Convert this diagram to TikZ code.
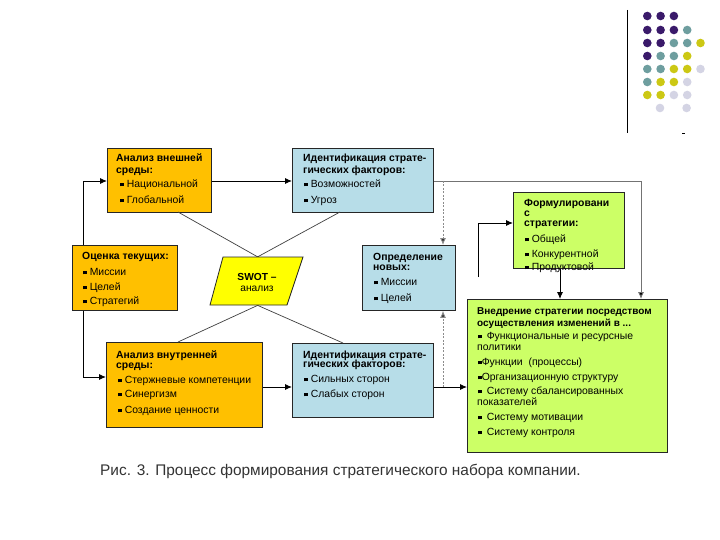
\documentclass[tikz,border=0pt]{standalone}
\usepackage{fontspec}
\setmainfont{Liberation Sans}
\usetikzlibrary{arrows.meta,calc}
\definecolor{orng}{HTML}{FFC000}
\definecolor{lblue}{HTML}{B7DDE8}
\definecolor{lgreen}{HTML}{CCFF66}
\definecolor{swoty}{HTML}{FFFF00}
\definecolor{dpurp}{HTML}{3A1A6A}
\definecolor{dteal}{HTML}{6E9E9F}
\definecolor{dyel}{HTML}{CCC814}
\definecolor{dlav}{HTML}{D4D4E4}
\newcommand\mybul{\rule[0.2ex]{3.6pt}{3.6pt}\hspace{3pt}}
\newcommand\mybulx{\rule[0.2ex]{3.6pt}{3.6pt}}
\begin{document}
\begin{tikzpicture}[x=1pt,y=-1pt,
  boxbase/.style={draw=black!85, line width=0.8pt, inner sep=0, anchor=north west},
  boxo/.style={boxbase, fill=orng},
  boxb/.style={boxbase, fill=lblue},
  boxg/.style={boxbase, fill=lgreen},
  txt/.style={anchor=base west, inner sep=0, font=\fontsize{10.4}{12}\selectfont},
  hd/.style={txt, font=\fontsize{10.4}{12}\selectfont\bfseries},
  arr/.style={line width=0.9pt, -{Latex[length=7pt,width=6pt]}},
  garr/.style={line width=0.9pt, draw=black!55, -{Latex[length=7pt,width=6pt,fill=black]}},
  darr/.style={line width=0.9pt, draw=black!45, dash pattern=on 2pt off 1.5pt, -{Latex[length=7pt,width=6pt,fill=black!80]}},
  xline/.style={line width=0.7pt, draw=black!75}
]
\useasboundingbox (0,0) rectangle (720,540);
\fill[white] (0,0) rectangle (720,540);

% decoration top right
\draw[line width=1pt] (627,10) -- (627,133);
\draw[line width=0.8pt] (682,133) -- (685,133);
\foreach \c [count=\i] in {dpurp,dpurp,dpurp}{\fill[\c] ({634+13.3*\i},16) circle (4.3);}
\foreach \c [count=\i] in {dpurp,dpurp,dpurp,dteal}{\fill[\c] ({634+13.3*\i},30) circle (4.3);}
\foreach \c [count=\i] in {dpurp,dpurp,dteal,dteal,dyel}{\fill[\c] ({634+13.3*\i},43) circle (4.3);}
\foreach \c [count=\i] in {dpurp,dteal,dteal,dyel}{\fill[\c] ({634+13.3*\i},56) circle (4.3);}
\foreach \c [count=\i] in {dteal,dteal,dyel,dyel,dlav}{\fill[\c] ({634+13.3*\i},69) circle (4.3);}
\foreach \c [count=\i] in {dteal,dyel,dyel,dlav}{\fill[\c] ({634+13.3*\i},82) circle (4.3);}
\foreach \c [count=\i] in {dyel,dyel,dlav,dlav}{\fill[\c] ({634+13.3*\i},95) circle (4.3);}
\fill[dlav] (660,108) circle (4.3);
\fill[dlav] (686.6,108) circle (4.3);

% helper coordinates
\coordinate (lx) at (83,0);
\coordinate (dx) at (443,0);
\coordinate (rx) at (641,0);
\coordinate (jt) at (0,181);
\coordinate (jb) at (0,387);
\coordinate (jl) at (0,377);
\coordinate (jf) at (0,223);
\coordinate (fs) at (478,277);
\coordinate (fx) at (560,0);

% boxes
\node[boxo, minimum width=104pt, minimum height=64pt] (tl) at (107,148) {};
\node[boxb, minimum width=141pt, minimum height=64pt] (tm) at (292,148) {};
\node[boxo, minimum width=105pt, minimum height=65pt] (lb) at (72,245) {};
\node[boxb, minimum width=93pt, minimum height=65pt] (rb) at (362,245) {};
\node[boxg, minimum width=111pt, minimum height=76pt] (fg) at (513,192) {};
\node[boxg, minimum width=200pt, minimum height=153pt] (bg) at (467,299) {};

% cross lines to SWOT
\coordinate (sx1) at (265,261);
\coordinate (sx2) at (250,261);
\coordinate (sx3) at (265,302);
\coordinate (sx4) at (250,302);
\node[boxo, minimum width=156pt, minimum height=85pt] (bl) at (106,342) {};
\node[boxb, minimum width=141pt, minimum height=74pt] (bm) at (292,343) {};
\draw[xline] (178,212) -- (sx1);
\draw[xline] (340,212) -- (sx2);
\draw[xline] (178,342) -- (sx3);
\draw[xline] (343,343) -- (sx4);

% SWOT parallelogram
\coordinate (s1) at (223,257);
\coordinate (s2) at (303,257);
\coordinate (s3) at (287,305);
\coordinate (s4) at (210,305);
\filldraw[fill=swoty, draw=black!85, line width=0.8pt] (s1) -- (s2) -- (s3) -- (s4) -- cycle;
\node[anchor=base, inner sep=0, font=\fontsize{10.2}{12}\selectfont\bfseries] (sw1) at (257,280.5) {SWOT –};
\node[anchor=base, inner sep=0, font=\fontsize{10.2}{12}\selectfont] (sw2) at (257,291.5) {анализ};

% connectors
\draw[arr] (lb.north -| lx) |- (tl.west |- jt);
\draw[arr] (lb.south -| lx) |- (bl.west |- jl);
\draw[arr] (tl.east |- jt) -- (tm.west |- jt);
\draw[arr] (bl.east |- jb) -- (bm.west |- jb);
\draw[garr] (tm.east |- jt) -| (bg.north -| rx);
\draw[darr] (dx |- jt) -- (rb.north -| dx);
\draw[darr] (dx |- jb) -- (rb.south -| dx);
\draw[arr] (bm.east |- jb) -- (bg.west |- jb);
\draw[arr] (fs) |- (fg.west |- jf);
\draw[arr] (fg.south -| fx) -- (bg.north -| fx);

% texts: top left
\node[hd] (tl1) at (116,161.5) {Анализ внешней};
\node[hd] (tl2) at (116,173.5) {среды:};
\node[txt] (tl3) at (120,187.5) {\mybul Национальной};
\node[txt] (tl4) at (120,203.5) {\mybul Глобальной};
% top middle
\node[hd] (tm1) at (303,161.5) {Идентификация страте-};
\node[hd] (tm2) at (303,173.5) {гических факторов:};
\node[txt] (tm3) at (304,187.5) {\mybul Возможностей};
\node[txt] (tm4) at (304,203.5) {\mybul Угроз};
% left
\node[hd] (lb1) at (82,259.5) {Оценка текущих:};
\node[txt] (lb2) at (83,275.5) {\mybul Миссии};
\node[txt] (lb3) at (83,290.5) {\mybul Целей};
\node[txt] (lb4) at (83,304.5) {\mybul Стратегий};
% right blue
\node[hd] (rb1) at (373,260) {Определение};
\node[hd] (rb2) at (373,270.5) {новых:};
\node[txt] (rb3) at (374,285.5) {\mybul Миссии};
\node[txt] (rb4) at (374,301.5) {\mybul Целей};
% bottom left
\node[hd] (bl1) at (116,358) {Анализ внутренней};
\node[hd] (bl2) at (116,368.5) {среды:};
\node[txt] (bl3) at (118,383.5) {\mybul Стержневые компетенции};
\node[txt] (bl4) at (118,397.5) {\mybul Синергизм};
\node[txt] (bl5) at (118,413.5) {\mybul Создание ценности};
% bottom middle
\node[hd] (bm1) at (303,358) {Идентификация страте-};
\node[hd] (bm2) at (303,367.5) {гических факторов:};
\node[txt] (bm3) at (304,382.5) {\mybul Сильных сторон};
\node[txt] (bm4) at (304,397.5) {\mybul Слабых сторон};
% formulation green
\node[hd] (fg1) at (524,206.5) {Формулировани};
\node[hd] (fg2) at (524,216.5) {с};
\node[hd] (fg3) at (524,226.5) {стратегии:};
\node[txt] (fg4) at (525,242.5) {\mybul Общей};
\node[txt] (fg5) at (525,257.5) {\mybul Конкурентной};
\node[txt] (fg6) at (525,270.5) {\mybul Продуктовой};
% big green
\node[hd, font=\fontsize{10}{12}\selectfont\bfseries] (bg1) at (477,314.5) {Внедрение стратегии посредством};
\node[hd, font=\fontsize{10}{12}\selectfont\bfseries] (bg2) at (477,326.5) {осуществления изменений в ...};
\node[txt] (bg3) at (478,339.5) {\mybul\hspace{2pt}Функциональные и ресурсные};
\node[txt] (bg4) at (477,350.5) {политики};
\node[txt] (bg5) at (478,365.5) {\mybulx Функции \ (процессы)};
\node[txt] (bg6) at (478,380.5) {\mybulx Организационную структуру};
\node[txt] (bg7) at (478,394.5) {\mybul\hspace{2pt}Систему сбалансированных};
\node[txt] (bg8) at (477,405.5) {показателей};
\node[txt] (bg9) at (478,420.5) {\mybul\hspace{2pt}Систему мотивации};
\node[txt] (bg10) at (478,435.5) {\mybul\hspace{2pt}Систему контроля};

% caption
\node[anchor=base west, inner sep=0, font=\fontsize{15.4}{18}\selectfont, text=black!80] (cap) at (100,475.5) {Рис. 3. Процесс формирования стратегического набора компании.};
\end{tikzpicture}
\end{document}
